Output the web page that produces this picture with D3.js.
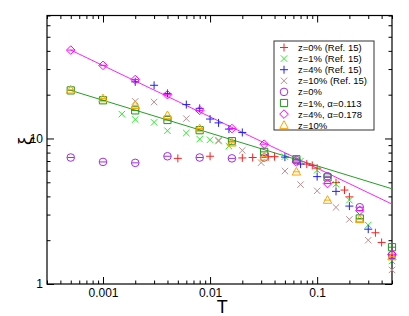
<!DOCTYPE html>
<html>
<head>
<meta charset="utf-8">
<script src="https://cdn.jsdelivr.net/npm/d3@7"></script>
<style>
  body { margin: 0; background: #fff; }
  svg { display: block; }
</style>
</head>
<body>
<div id="chart"></div>
<script>
// Ref. 15 series
var tRef0 = [0.005, 0.01, 0.02, 0.025, 0.035, 0.04, 0.08, 0.09, 0.1, 0.15, 0.18, 0.2, 0.35, 0.4];
var xiRef0 = [7.3, 7.55, 7.35, 7.4, 7.5, 7.5, 6.67, 6.53, 6.25, 4.98, 4.42, 3.97, 2.25, 1.93];

var tRef1 = [0.0015, 0.002, 0.003, 0.004, 0.006, 0.008, 0.01, 0.012, 0.015, 0.05, 0.07, 0.1, 0.15, 0.2, 0.3, 0.5];
var xiRef1 = [14.7, 13.5, 12.9, 11.3, 10.9, 9.9, 9.8, 9.6, 8.85, 7.5, 7.0, 6.05, 4.85, 3.77, 2.54, 1.44];

var tRef4 = [0.002, 0.003, 0.004, 0.006, 0.008, 0.01, 0.012, 0.015, 0.02, 0.05, 0.07, 0.1, 0.15, 0.2, 0.3, 0.5];
var xiRef4 = [24.5, 23.2, 20.4, 17.1, 16.1, 13.6, 12.8, 11.6, 11.0, 7.45, 6.67, 5.47, 4.33, 3.43, 2.38, 1.49];

var tRef10 = [0.002, 0.003, 0.006, 0.012, 0.02, 0.03, 0.05, 0.07, 0.1, 0.15, 0.2, 0.3, 0.5];
var xiRef10 = [18.0, 17.8, 13.7, 9.73, 8.28, 6.82, 5.97, 4.82, 4.37, 3.36, 2.78, 2.0, 1.25];

// present work, common temperatures
var tOwn = [0.0005, 0.001, 0.002, 0.004, 0.008, 0.016, 0.032, 0.064, 0.125, 0.25, 0.5];
var xiZ0 = [7.4, 6.9, 6.8, 7.55, 7.4, 7.3, 7.4, 7.1, 5.5, 3.37, 1.58];
var xiZ1 = [21.4, 18.3, 15.6, 13.4, 11.4, 9.58, 8.09, 7.2, 5.4, 2.82, 1.79];
var xiZ4 = [40.5, 31.8, 25.4, 20.0, 15.6, 11.7, 9.14, 6.9, 4.9, 3.2, 1.6];
var xiZ10 = [21.6, 18.8, 16.9, 14.4, 11.7, 9.33, 7.48, 5.9, 3.77, 2.78, 1.54];

// power-law fits (end points)
var fitT = [0.0005, 0.5];
var fitZ1 = [21.4, 4.51];
var fitZ4 = [40.5, 3.54];

var legendLabels = ["z=0% (Ref. 15)", "z=1% (Ref. 15)", "z=4% (Ref. 15)", "z=10% (Ref. 15)",
  "z=0%", "z=1%, \u03b1=0.113", "z=4%, \u03b1=0.178", "z=10%"];

var xMajor = [0.001, 0.01, 0.1];
var yMajor = [1, 10];

var width = 409, height = 316,
    margin = {top: 15.5, right: 17, bottom: 32, left: 47};

var svg = d3.select("#chart").append("svg")
  .attr("width", width).attr("height", height);

var g = svg.append("g")
  .attr("transform", `translate(${margin.left},${margin.top})`);

var w = width - margin.left - margin.right,
    h = height - margin.top - margin.bottom;

var x = d3.scaleLog().domain([0.0003, 0.5]).range([0, w]);
var y = d3.scaleLog().domain([1, 70]).range([h, 0]);

function minors(lo, hi) {
  var out = [];
  for (var e = Math.floor(Math.log10(lo)); e <= Math.ceil(Math.log10(hi)); e++) {
    for (var m = 2; m <= 9; m++) {
      var v = m * Math.pow(10, e);
      if (v >= lo * 0.999 && v <= hi * 1.001) out.push(v);
    }
  }
  return out;
}
var xMinor = minors(0.0003, 0.5);
var yMinor = minors(1, 70);

var font = "'Liberation Sans', Arial, sans-serif";

function styleAxis(sel) {
  sel.select(".domain").remove();
  sel.selectAll("line").attr("stroke", "#000");
  sel.selectAll("text").attr("font-family", font).attr("font-size", "12px").attr("fill", "#000");
}

// bottom
g.append("g").attr("transform", `translate(0,${h})`)
  .call(d3.axisBottom(x).tickValues(xMinor).tickSize(-3.5).tickFormat("")).call(styleAxis);
g.append("g").attr("transform", `translate(0,${h})`)
  .call(d3.axisBottom(x).tickValues(xMajor).tickSize(-7).tickPadding(4).tickFormat(d3.format("~g"))).call(styleAxis);
// top
g.append("g")
  .call(d3.axisTop(x).tickValues(xMinor).tickSize(-3.5).tickFormat("")).call(styleAxis);
g.append("g")
  .call(d3.axisTop(x).tickValues(xMajor).tickSize(-7).tickFormat("")).call(styleAxis);
// left
g.append("g")
  .call(d3.axisLeft(y).tickValues(yMinor).tickSize(-3.5).tickFormat("")).call(styleAxis);
g.append("g")
  .call(d3.axisLeft(y).tickValues(yMajor).tickSize(-7).tickPadding(4).tickFormat(d3.format("d"))).call(styleAxis);
// right
g.append("g").attr("transform", `translate(${w},0)`)
  .call(d3.axisRight(y).tickValues(yMinor).tickSize(-3.5).tickFormat("")).call(styleAxis);
g.append("g").attr("transform", `translate(${w},0)`)
  .call(d3.axisRight(y).tickValues(yMajor).tickSize(-7).tickFormat("")).call(styleAxis);

g.append("rect").attr("width", w).attr("height", h)
  .attr("fill", "none").attr("stroke", "#000").attr("stroke-width", 1.2);

// fit lines
var line = d3.line().x(d => x(d[0])).y(d => y(d[1]));
g.append("path").datum(fitT.map((t, i) => [t, fitZ1[i]]))
  .attr("d", line).attr("fill", "none").attr("stroke", "#22a022").attr("stroke-width", 1);
g.append("path").datum(fitT.map((t, i) => [t, fitZ4[i]]))
  .attr("d", line).attr("fill", "none").attr("stroke", "#ff22ff").attr("stroke-width", 1);

// marker path generators (centered at 0,0)
var s = 4;
var shapes = {
  plus: `M${-s},0H${s}M0,${-s}V${s}`,
  cross: `M${-s*0.8},${-s*0.8}L${s*0.8},${s*0.8}M${-s*0.8},${s*0.8}L${s*0.8},${-s*0.8}`,
  circle: `M${-3.8},0A3.8,3.8 0 1,0 3.8,0A3.8,3.8 0 1,0 -3.8,0Z`,
  square: `M-3.6,-3.6H3.6V3.6H-3.6Z`,
  diamond: `M0,-4.3L4.3,0L0,4.3L-4.3,0Z`,
  triangle: `M0,-4.5L4.2,3.2H-4.2Z`
};
var bar = "M-3.5,0H3.5";

var series = [
  {t: tRef0, v: xiRef0, shape: "plus", color: "#ff2020", bar: false},
  {t: tRef1, v: xiRef1, shape: "cross", color: "#20f020", bar: false},
  {t: tRef4, v: xiRef4, shape: "plus", color: "#2020ff", bar: false},
  {t: tRef10, v: xiRef10, shape: "cross", color: "#bc8f8f", bar: false},
  {t: tOwn, v: xiZ0, shape: "circle", color: "#a030e0", bar: true},
  {t: tOwn, v: xiZ1, shape: "square", color: "#1e961e", bar: true},
  {t: tOwn, v: xiZ4, shape: "diamond", color: "#ff00ff", bar: true},
  {t: tOwn, v: xiZ10, shape: "triangle", color: "#ffa500", bar: true}
];

series.forEach(function(sr) {
  var pts = g.append("g").selectAll("g")
    .data(sr.t.map((t, i) => [t, sr.v[i]]))
    .enter().append("g")
    .attr("transform", d => `translate(${x(d[0])},${y(d[1])})`);
  pts.append("path").attr("d", shapes[sr.shape])
    .attr("fill", "none").attr("stroke", sr.color).attr("stroke-width", 1);
  if (sr.bar) {
    pts.append("path").attr("d", bar).attr("stroke", sr.color).attr("stroke-width", 1);
  }
});

// legend
var lg = svg.append("g").attr("transform", "translate(274,41)");
lg.append("rect").attr("width", 100).attr("height", 89)
  .attr("fill", "#fff").attr("stroke", "#333").attr("stroke-width", 1);
var items = lg.selectAll("g.item").data(series)
  .enter().append("g")
  .attr("transform", (d, i) => `translate(10,${6.5 + i * 11.1})`);
items.append("path").attr("d", d => shapes[d.shape])
  .attr("fill", "none").attr("stroke", d => d.color).attr("stroke-width", 1);
items.append("text").text((d, i) => legendLabels[i])
  .attr("x", 14).attr("y", 3.5)
  .attr("font-family", font).attr("font-size", "9.5px").attr("fill", "#000");

// axis titles
svg.append("text").text("T")
  .attr("x", margin.left + x(0.013)).attr("y", 313)
  .attr("text-anchor", "middle")
  .attr("font-family", font).attr("font-size", "18px").attr("fill", "#000");
svg.append("text").text("\u03be")
  .attr("transform", "translate(31,141) rotate(-90)")
  .attr("text-anchor", "middle")
  .attr("font-family", font).attr("font-size", "18px").attr("fill", "#000");
</script>
</body>
</html>
